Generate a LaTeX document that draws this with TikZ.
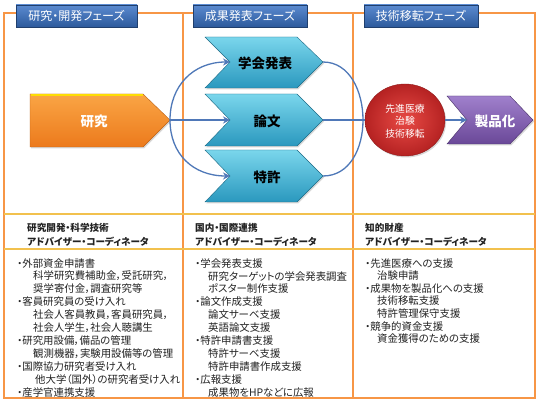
\documentclass[tikz,border=0pt]{standalone}
\usepackage{fontspec}
\setmainfont{Noto Sans CJK JP}[RawFeature=+palt]
\usetikzlibrary{shadows,arrows.meta,shapes.geometric}
\definecolor{borderor}{HTML}{F79646}
\definecolor{bandgold}{HTML}{F2C14E}
\definecolor{tabtop}{HTML}{5A8AD0}
\definecolor{tabbot}{HTML}{2D5A9C}
\definecolor{cytop}{HTML}{7AD6EC}
\definecolor{cybot}{HTML}{2A98BE}
\definecolor{ortop}{HTML}{FAA545}
\definecolor{orbot}{HTML}{EC7A1C}
\definecolor{redin}{HTML}{E84A45}
\definecolor{redout}{HTML}{B52222}
\definecolor{purtop}{HTML}{A080CC}
\definecolor{purbot}{HTML}{6A4898}
\definecolor{linkblue}{HTML}{4F78B8}
\definecolor{txt}{HTML}{222222}
\begin{document}
\begin{tikzpicture}[x=1pt,y=-1pt,
  shad/.style={drop shadow={opacity=0.3,shadow xshift=1.2pt,shadow yshift=-1.5pt}},
  tabbox/.style={draw=tabbot!70!black, line width=0.4pt, top color=tabtop, bottom color=tabbot,
    text=white, font=\fontsize{12}{13}\selectfont, minimum height=22pt, inner sep=0pt, shad},
  chev/.style={draw=cybot!70!black, line width=0.4pt, top color=cytop, bottom color=cybot, shad},
  chevtxt/.style={font=\bfseries\fontsize{13.5}{15}\selectfont, text=black, inner sep=0pt},
  whitetxt/.style={font=\bfseries\fontsize{13.5}{15}\selectfont, text=white, inner sep=0pt},
  link/.style={draw=linkblue, line width=1.3pt},
  tip/.style={-{Stealth[length=7pt,width=7pt]}},
  bandtxt/.style={font=\bfseries\fontsize{9.6}{11}\selectfont, text=txt, inner sep=0pt, anchor=base west},
  listtxt/.style={font=\fontsize{10.4}{12}\selectfont, text=txt, inner sep=0pt, anchor=base west}
]
\useasboundingbox (0,0) rectangle (540,403);
\fill[white] (0,0) rectangle (540,403);
% frame
\draw[borderor, line width=1.8pt] (4,13) rectangle (535,398);
\draw[borderor, line width=1.8pt] (183,13) -- (183,398);
\draw[borderor, line width=1.8pt] (353,13) -- (353,398);
\draw[bandgold, line width=1.8pt] (4,214) -- (535,214);
\draw[bandgold, line width=1.8pt] (4,249) -- (535,249);
% tabs
\node[tabbox, minimum width=121pt] (tab1) at (76.5,16) {研究・開発フェーズ};
\node[tabbox, minimum width=114pt] (tab2) at (250,16) {成果発表フェーズ};
\node[tabbox, minimum width=114pt] (tab3) at (421,16) {技術移転フェーズ};
% orange arrow
\path[draw=orbot!80!black, line width=0.4pt, top color=ortop, bottom color=orbot, shad]
  (30,94) -- (143,94) -- (170,120) -- (143,147) -- (30,147) -- cycle;
\draw[yellow!80!orange, line width=1.6pt] (30.5,95) -- (143,95);
\node[whitetxt] (ken) at (94,121) {研究};
\coordinate (kenT) at (170,120);
% chevrons
\path[chev] (205,37) -- (297,37) -- (323,62) -- (297,88) -- (205,88) -- (230,62) -- cycle;
\path[chev] (205,94) -- (297,94) -- (323,120) -- (297,146) -- (205,146) -- (230,120) -- cycle;
\path[chev] (205,150) -- (297,150) -- (323,176) -- (297,202) -- (205,202) -- (230,176) -- cycle;
\node[chevtxt] (gak) at (265,63) {学会発表};
\node[chevtxt] (ron) at (267,121) {論文};
\node[chevtxt] (tok) at (267,177) {特許};
\coordinate (gakN) at (230,62);
\coordinate (ronN) at (230,120);
\coordinate (tokN) at (230,176);
\coordinate (gakT) at (323,62);
\coordinate (ronT) at (323,120);
\coordinate (tokT) at (323,176);
% links
\draw[link, tip] (kenT) .. controls (170,86) and (193,62) .. (gakN);
\draw[link, tip] (kenT) .. controls (170,154) and (193,176) .. (tokN);
\draw[link, tip] (kenT) -- (ronN);
\draw[link] (gakT) .. controls (350,62) and (363,92) .. (363,120) .. controls (363,148) and (350,176) .. (tokT);
% red circle
\node[ellipse, draw=redout!80!black, line width=0.4pt, inner color=redin, outer color=redout,
  minimum width=80pt, minimum height=72pt, inner sep=0pt, shad] (red) at (405,120) {};
\node[font=\fontsize{9.8}{12.5}\selectfont, text=white, align=center, inner sep=0pt] (redtxt) at (405,121)
  {先進医療\\治験\\技術移転};
\draw[link] (ronT) -- (red.west);
% purple chevron
\path[draw=purbot!70!black, line width=0.4pt, top color=purtop, bottom color=purbot, shad]
  (447,96) -- (510,96) -- (533,120) -- (510,144) -- (447,144) -- (467,120) -- cycle;
\node[whitetxt] (prod) at (495,121) {製品化};
\coordinate (purN) at (467,120);
\draw[link, tip] (red.east) -- (purN);
% band texts
\node[bandtxt] (b1a) at (27,231.5) {研究開発・科学技術};
\node[bandtxt] (b1b) at (27,245.5) {アドバイザー・コーディネータ};
\node[bandtxt] (b2a) at (195,231.5) {国内・国際連携};
\node[bandtxt] (b2b) at (195,245.5) {アドバイザー・コーディネータ};
\node[bandtxt] (b3a) at (365,231.5) {知的財産};
\node[bandtxt] (b3b) at (365,245.5) {アドバイザー・コーディネータ};
% lists
\foreach \x/\t [count=\i] in {
  17/{・外部資金申請書},
  33/{科学研究費補助金，受託研究，},
  33/{奨学寄付金，調査研究等},
  17/{・客員研究員の受け入れ},
  33/{社会人客員教員，客員研究員，},
  33/{社会人学生，社会人聴講生},
  17/{・研究用設備，備品の管理},
  33/{観測機器，実験用設備等の管理},
  17/{・国際協力研究者受け入れ},
  35/{他大学（国外）の研究者受け入れ},
  17/{・産学官連携支援}}
  \node[listtxt] (a\i) at ({\x},{254.1+12.9*\i}) {\t};
\foreach \x/\t [count=\i] in {
  195/{・学会発表支援},
  208/{研究ターゲットの学会発表調査},
  208/{ポスター制作支援},
  195/{・論文作成支援},
  208/{論文サーベ支援},
  208/{英語論文支援},
  195/{・特許申請書支援},
  208/{特許サーベ支援},
  208/{特許申請書作成支援},
  195/{・広報支援},
  208/{成果物をHPなどに広報}}
  \node[listtxt] (m\i) at ({\x},{254.1+12.95*\i}) {\t};
\foreach \x/\t [count=\i] in {
  365/{・先進医療への支援},
  377/{治験申請},
  365/{・成果物を製品化への支援},
  377/{技術移転支援},
  377/{特許管理保守支援},
  365/{・競争的資金支援},
  377/{資金獲得のための支援}}
  \node[listtxt] (r\i) at ({\x},{254.4+12.6*\i}) {\t};
\end{tikzpicture}
\end{document}
